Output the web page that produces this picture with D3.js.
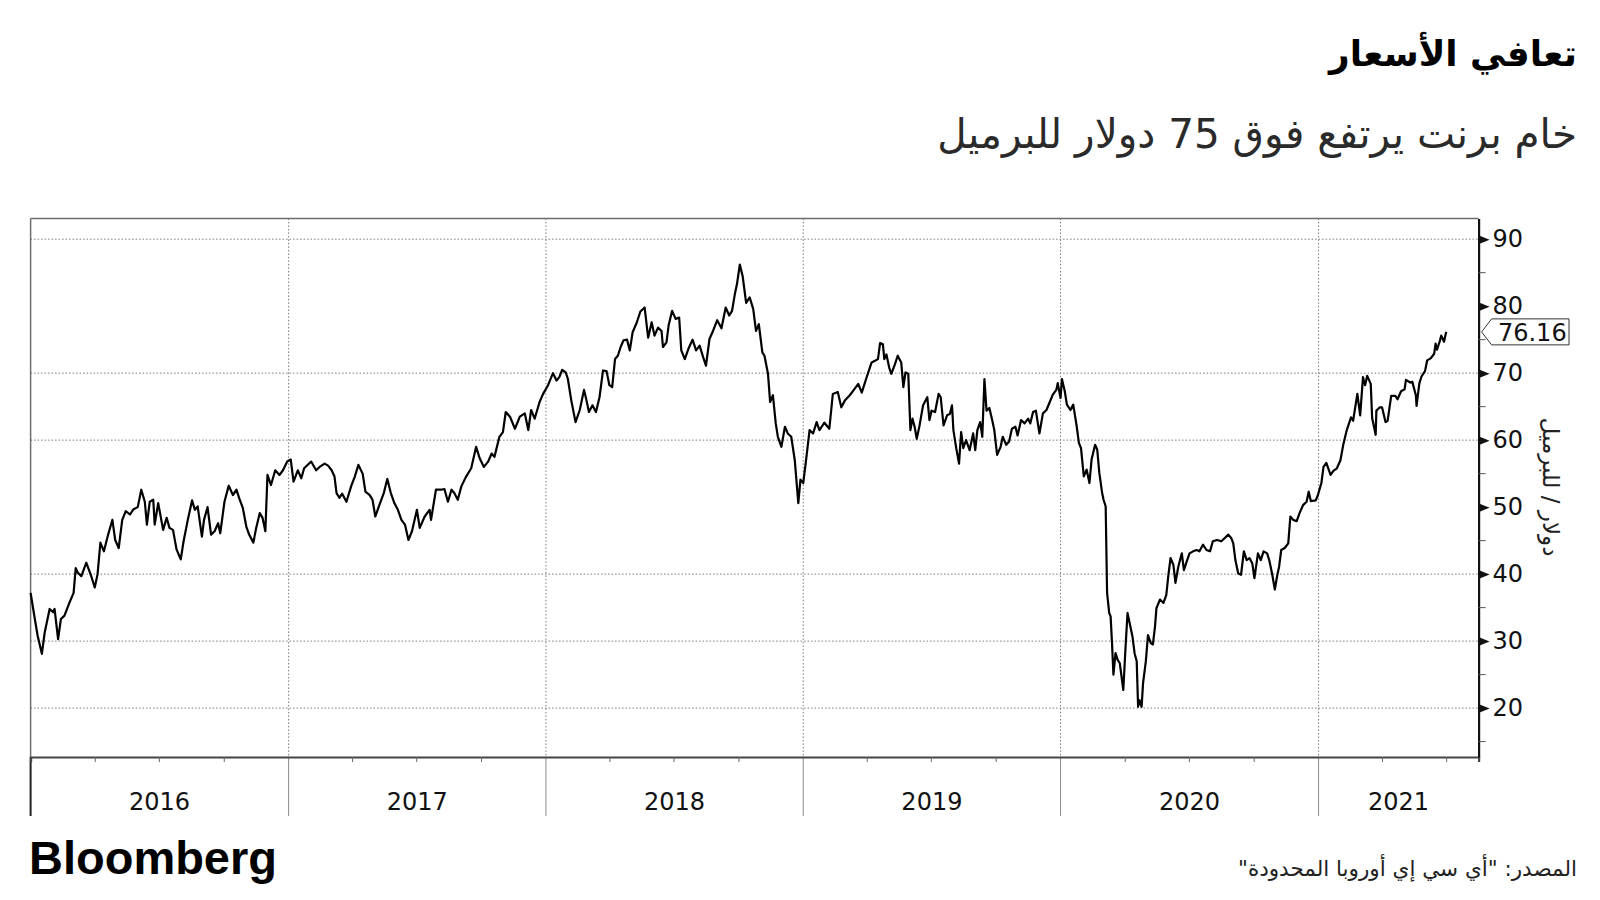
<!DOCTYPE html>
<html><head><meta charset="utf-8">
<script src="https://cdn.jsdelivr.net/npm/d3@7"></script>
<style>body{margin:0;background:#fff}svg{display:block}</style>
</head><body>
<svg id="c" width="1600" height="900"></svg>
<script>
// ---------- DATA ----------
const dates = [
"2016-01-01","2016-01-07","2016-01-11","2016-01-17","2016-01-21","2016-01-28","2016-02-02","2016-02-04","2016-02-09","2016-02-13","2016-02-18","2016-02-25",
"2016-03-02","2016-03-05","2016-03-08","2016-03-13","2016-03-20","2016-03-27","2016-04-01","2016-04-05","2016-04-09","2016-04-14","2016-04-20","2016-04-26",
"2016-04-30","2016-05-05","2016-05-10","2016-05-15","2016-05-21","2016-05-26","2016-06-01","2016-06-06","2016-06-11","2016-06-14","2016-06-18","2016-06-23",
"2016-06-25","2016-06-30","2016-07-07","2016-07-12","2016-07-16","2016-07-21","2016-07-26","2016-08-01","2016-08-05","2016-08-11","2016-08-17","2016-08-21",
"2016-08-25","2016-08-31","2016-09-03","2016-09-08","2016-09-13","2016-09-18","2016-09-23","2016-09-26","2016-10-02","2016-10-08","2016-10-14","2016-10-19",
"2016-10-23","2016-10-28","2016-11-02","2016-11-06","2016-11-12","2016-11-16","2016-11-21","2016-11-25","2016-11-29","2016-12-02","2016-12-07","2016-12-13",
"2016-12-19","2016-12-24","2016-12-30","2017-01-04","2017-01-08","2017-01-14","2017-01-19","2017-01-23","2017-02-02","2017-02-09",
"2017-02-14","2017-02-21","2017-02-26","2017-03-03","2017-03-07","2017-03-10","2017-03-14","2017-03-18","2017-03-24","2017-03-31","2017-04-05","2017-04-10",
"2017-04-16","2017-04-20","2017-04-26","2017-04-30","2017-05-04","2017-05-09","2017-05-16","2017-05-21","2017-05-26","2017-05-31","2017-06-05","2017-06-10",
"2017-06-15","2017-06-20","2017-06-25","2017-07-02","2017-07-06","2017-07-13","2017-07-20","2017-07-22","2017-07-29","2017-08-05","2017-08-10","2017-08-15",
"2017-08-20","2017-08-24","2017-08-29","2017-09-03","2017-09-10","2017-09-17","2017-09-24","2017-09-29","2017-10-05","2017-10-11","2017-10-16","2017-10-20",
"2017-10-27","2017-11-01","2017-11-05","2017-11-11","2017-11-18","2017-11-25","2017-12-02","2017-12-07","2017-12-11","2017-12-16","2017-12-23","2017-12-28",
"2018-01-04","2018-01-11","2018-01-16","2018-01-20","2018-01-24","2018-01-29","2018-02-01","2018-02-06","2018-02-12","2018-02-18","2018-02-24","2018-02-27",
"2018-03-03","2018-03-08","2018-03-13",
"2018-03-18","2018-03-23","2018-03-28","2018-04-01","2018-04-05","2018-04-09","2018-04-13","2018-04-17","2018-04-21","2018-04-26","2018-04-30","2018-05-04",
"2018-05-10","2018-05-15","2018-05-21","2018-05-26","2018-05-31","2018-06-04","2018-06-09","2018-06-14","2018-06-16","2018-06-21","2018-06-24","2018-06-29",
"2018-07-04","2018-07-09","2018-07-12","2018-07-17","2018-07-22","2018-07-28","2018-08-02","2018-08-07","2018-08-12","2018-08-16","2018-08-21","2018-08-26",
"2018-09-01","2018-09-07","2018-09-13","2018-09-18","2018-09-22","2018-09-26","2018-09-29","2018-10-03","2018-10-07","2018-10-12","2018-10-17","2018-10-22",
"2018-10-26","2018-10-30","2018-11-04","2018-11-07","2018-11-12","2018-11-15","2018-11-19","2018-11-23","2018-11-26","2018-12-01","2018-12-06","2018-12-10",
"2018-12-15","2018-12-20","2018-12-25","2018-12-28","2019-01-01","2019-01-05","2019-01-10","2019-01-15","2019-01-20","2019-01-24","2019-01-31","2019-02-07",
"2019-02-12","2019-02-19",
"2019-02-24","2019-03-01","2019-03-08","2019-03-13","2019-03-20","2019-03-25","2019-04-01","2019-04-08","2019-04-12","2019-04-17","2019-04-20","2019-04-24",
"2019-04-26","2019-04-29","2019-05-03","2019-05-06","2019-05-11","2019-05-15","2019-05-20","2019-05-23","2019-05-26","2019-05-30","2019-06-02","2019-06-05",
"2019-06-08","2019-06-11","2019-06-15","2019-06-20","2019-06-26","2019-06-29","2019-07-02","2019-07-07","2019-07-12","2019-07-15","2019-07-19","2019-07-24",
"2019-07-28","2019-07-31","2019-08-02","2019-08-06","2019-08-10","2019-08-13","2019-08-16","2019-08-20","2019-08-25","2019-08-30","2019-09-02","2019-09-05",
"2019-09-09","2019-09-12","2019-09-15","2019-09-18","2019-09-22","2019-09-26","2019-09-29","2019-10-03","2019-10-08","2019-10-11","2019-10-16","2019-10-20",
"2019-10-24","2019-10-29","2019-11-01","2019-11-06","2019-11-11","2019-11-16","2019-11-19","2019-11-23","2019-11-27",
"2019-12-02","2019-12-07","2019-12-12","2019-12-16","2019-12-21","2019-12-26","2019-12-28","2020-01-01","2020-01-03","2020-01-07","2020-01-10","2020-01-15",
"2020-01-19","2020-01-24","2020-01-27","2020-01-30","2020-02-03","2020-02-07","2020-02-11","2020-02-14","2020-02-19","2020-02-22","2020-02-25","2020-02-29",
"2020-03-02","2020-03-05","2020-03-07","2020-03-10","2020-03-12","2020-03-14","2020-03-16","2020-03-19","2020-03-22","2020-03-25","2020-03-30","2020-04-02",
"2020-04-05","2020-04-08","2020-04-12","2020-04-15","2020-04-18","2020-04-20","2020-04-22","2020-04-25","2020-04-27","2020-05-01","2020-05-04","2020-05-08",
"2020-05-11","2020-05-14","2020-05-16","2020-05-21","2020-05-26","2020-05-30","2020-06-02","2020-06-05","2020-06-09","2020-06-12","2020-06-16","2020-06-21",
"2020-06-24","2020-06-28","2020-07-02","2020-07-07","2020-07-12","2020-07-16","2020-07-21","2020-07-26","2020-07-31","2020-08-04","2020-08-10","2020-08-16",
"2020-08-21","2020-08-26","2020-08-30","2020-09-02","2020-09-05","2020-09-09","2020-09-13","2020-09-17","2020-09-21","2020-09-25","2020-09-29","2020-10-02",
"2020-10-07","2020-10-11","2020-10-15","2020-10-20","2020-10-23","2020-10-27","2020-10-31","2020-11-03","2020-11-06","2020-11-09","2020-11-14","2020-11-19",
"2020-11-22","2020-11-26","2020-12-01","2020-12-05",
"2020-12-10","2020-12-15","2020-12-18","2020-12-21","2020-12-28","2020-12-31","2021-01-05","2021-01-08","2021-01-12","2021-01-18","2021-01-22","2021-01-27",
"2021-02-01","2021-02-05","2021-02-10","2021-02-16","2021-02-19","2021-02-25","2021-03-01","2021-03-05","2021-03-08","2021-03-11","2021-03-16","2021-03-18",
"2021-03-23","2021-03-24","2021-03-29","2021-04-01","2021-04-06","2021-04-09","2021-04-14","2021-04-20","2021-04-23","2021-04-28","2021-05-03","2021-05-05",
"2021-05-11","2021-05-14","2021-05-19","2021-05-20","2021-05-24","2021-05-27","2021-06-01","2021-06-04","2021-06-09","2021-06-14","2021-06-16","2021-06-18",
"2021-06-22","2021-06-24","2021-06-28","2021-07-01"
];
const prices = [
37.2,33.3,30.8,28.1,31.3,34.8,34.3,34.8,30.3,33.3,33.8,35.7,
37.2,40.9,40.2,39.7,41.7,39.7,38.0,40.0,44.7,43.4,45.9,48.1,
45.1,43.9,48.1,49.4,48.9,49.7,50.0,52.6,50.8,47.4,50.8,51.1,
47.4,50.6,46.6,48.4,46.9,46.6,43.7,42.2,44.9,48.1,51.0,49.6,
50.1,45.6,48.1,50.0,45.9,46.4,47.6,46.1,50.8,53.2,51.8,52.6,
51.3,49.9,47.1,45.9,44.7,46.9,49.1,48.4,46.4,54.8,53.3,55.5,
54.8,55.5,56.8,57.1,53.8,55.5,54.3,55.8,56.8,55.5,
56.0,56.5,56.2,55.5,54.6,52.1,51.4,52.0,50.8,53.2,54.6,56.3,
55.0,52.3,51.8,51.1,48.6,50.1,52.1,54.2,52.1,50.6,49.6,48.1,
47.4,45.1,46.4,49.6,46.9,48.6,49.6,48.1,52.6,52.6,52.7,50.8,
52.6,52.1,51.1,53.1,54.6,55.8,59.0,57.3,56.0,56.8,58.0,57.5,
60.5,61.2,64.2,63.5,61.7,63.5,64.0,61.5,64.5,63.2,65.7,66.9,
68.2,70.0,68.9,69.4,70.5,70.1,69.2,65.9,62.7,64.5,67.5,66.2,
64.2,65.2,64.2,
66.4,70.4,70.3,68.2,67.9,72.1,72.6,73.9,74.9,75.0,73.4,76.1,
77.6,79.2,79.8,75.3,77.6,75.6,76.8,76.3,73.9,74.6,77.1,79.3,
78.1,78.3,73.4,72.1,73.6,75.0,73.4,74.1,72.4,71.1,75.1,76.3,
77.9,76.7,79.8,78.6,79.3,81.8,83.3,86.2,84.5,80.5,81.3,79.6,
76.3,77.3,73.1,72.6,69.9,65.7,66.7,62.5,60.5,59.0,62.0,61.0,
60.5,57.0,50.6,54.1,53.6,57.0,61.5,61.0,62.7,61.5,62.6,61.7,
66.9,67.2,
64.9,65.9,66.7,67.4,68.4,67.1,69.4,71.6,71.8,72.1,74.5,74.3,
72.1,72.8,70.8,69.9,71.3,72.6,71.6,67.9,70.1,69.9,61.5,63.2,
62.0,60.2,62.2,65.2,66.4,63.0,64.4,64.2,66.9,66.4,62.2,63.7,
63.9,65.2,61.5,58.8,56.5,61.2,58.8,60.0,58.5,61.0,58.5,61.5,
62.7,60.5,69.1,64.4,64.8,63.0,61.5,57.8,59.0,60.5,59.3,59.8,
61.7,62.0,60.7,63.0,62.5,63.2,62.5,64.2,64.4,
61.0,64.0,64.5,65.5,66.8,67.5,68.5,66.3,69.1,67.3,65.3,64.5,
65.3,62.0,59.6,58.8,54.6,55.6,53.6,57.1,59.3,58.6,55.1,52.1,
51.1,50.1,37.2,34.2,33.7,29.7,25.0,28.2,27.2,26.7,22.7,28.7,
34.2,32.7,30.7,28.2,27.0,20.2,21.2,20.2,23.7,27.0,30.9,29.7,
29.5,32.2,34.9,36.2,35.7,36.9,39.9,42.4,41.4,38.7,41.1,43.1,
40.6,41.9,43.1,43.4,43.6,43.4,44.4,43.6,43.4,44.9,45.1,44.9,
45.4,45.9,45.4,44.6,42.1,40.1,39.9,43.4,42.1,42.4,41.6,39.4,
43.1,42.1,43.4,43.1,42.1,40.1,37.7,39.6,41.1,43.6,43.9,44.6,
48.6,48.1,47.9,49.1,
50.3,50.8,52.3,50.9,51.0,51.8,53.6,56.0,56.6,54.8,55.4,55.8,
57.0,59.3,61.5,63.4,62.9,66.9,63.7,69.4,68.2,69.6,68.4,63.3,
60.8,64.4,64.9,64.9,62.7,62.9,66.6,66.6,66.1,67.3,67.6,69.0,
68.6,68.7,66.7,65.1,68.5,69.5,70.3,71.9,72.2,72.9,74.4,73.5,
74.8,75.6,74.7,76.16
];
const yearLabels = ["2016","2017","2018","2019","2020","2021"];
const yTickValues = [20,30,40,50,60,70,80,90];
const yMinorValues = [15,25,35,45,55,65,75,85];
const yGridValues = [20,30,40,60,70,90];
const lastValueText = "76.16";
const titleText = "تعافي الأسعار";
const subtitleText = "خام برنت يرتفع فوق 75 دولار للبرميل";
const yAxisTitleText = "دولار / للبرميل";
const sourceText = "المصدر: \"أي سي إي أوروبا المحدودة\"";
const logoText = "Bloomberg";

// ---------- CHART ----------
const svg = d3.select("#c");
const P = {l:30.6, r:1478.6, t:218.4, b:757, below:816};
const parse = d3.utcParse("%Y-%m-%d");
const data = dates.map((d,i)=>({date:parse(d), v:prices[i]}));
const xStart = new Date(Date.UTC(2016,0,1)), xEnd = new Date(Date.UTC(2021,7,16));
const x = d3.scaleUtc().domain([xStart, xEnd]).range([P.l, P.r]);
const y = d3.scaleLinear().domain([12.7, 93.1]).range([P.b, P.t]);
const AR = "'DejaVu Sans', sans-serif";
const NUM = "'DejaVu Sans', Verdana, sans-serif";

// horizontal gridlines
svg.append("g").selectAll("line").data(yGridValues).join("line")
  .attr("x1", P.l).attr("x2", P.r).attr("y1", d=>y(d)).attr("y2", d=>y(d))
  .attr("stroke", "#7a7a7a").attr("stroke-width", 1).attr("stroke-dasharray", "1.5,2");

// year boundaries
const yearStarts = yearLabels.map(s => new Date(Date.UTC(+s,0,1)));
svg.append("g").selectAll("line").data(yearStarts.slice(1)).join("line")
  .attr("x1", d=>x(d)).attr("x2", d=>x(d)).attr("y1", P.t).attr("y2", P.b)
  .attr("stroke", "#7a7a7a").attr("stroke-width", 1).attr("stroke-dasharray", "1.5,2");
svg.append("g").selectAll("line").data(yearStarts.slice(1)).join("line")
  .attr("x1", d=>x(d)).attr("x2", d=>x(d)).attr("y1", P.b).attr("y2", P.below)
  .attr("stroke", "#8a8a8a").attr("stroke-width", 1);

// frame
svg.append("line").attr("x1", P.l).attr("x2", P.r).attr("y1", P.t).attr("y2", P.t)
  .attr("stroke", "#6e6e6e").attr("stroke-width", 1.5);
svg.append("line").attr("x1", P.l).attr("x2", P.l).attr("y1", P.t).attr("y2", P.b)
  .attr("stroke", "#6e6e6e").attr("stroke-width", 1.5);
svg.append("line").attr("x1", P.l).attr("x2", P.l).attr("y1", P.b).attr("y2", P.below)
  .attr("stroke", "#222").attr("stroke-width", 2);

// x axis: quarter ticks
const xAxis = d3.axisBottom(x)
  .tickValues(x.ticks(d3.utcMonth.every(3)).filter(d => d.getUTCMonth() !== 0))
  .tickSize(5).tickFormat("");
const gx = svg.append("g").attr("transform", `translate(0,${P.b})`).call(xAxis);
gx.select(".domain").attr("stroke", "#444").attr("stroke-width", 2.2);
gx.selectAll(".tick line").attr("stroke", "#666");

// year labels
svg.append("g").selectAll("text").data(yearLabels).join("text")
  .attr("x", (d,i) => { const a = x(yearStarts[i]); const b = i+1 < yearStarts.length ? x(yearStarts[i+1]) : P.r; return (a+b)/2; })
  .attr("y", 810).attr("text-anchor", "middle")
  .attr("font-family", NUM).attr("font-size", 24).attr("fill", "#111").text(d=>d);

// price line
svg.append("path").datum(data)
  .attr("d", d3.line().x(d=>x(d.date)).y(d=>y(d.v)))
  .attr("fill", "none").attr("stroke", "#000").attr("stroke-width", 2.2).attr("stroke-linejoin", "round");

// right axis
const yAxis = d3.axisRight(y).tickValues(yTickValues).tickSize(0).tickPadding(14).tickFormat(d3.format("d"));
const gy = svg.append("g").attr("transform", `translate(${P.r},0)`).call(yAxis);
gy.select(".domain").attr("stroke", "#111").attr("stroke-width", 2.2);
gy.selectAll(".tick text").attr("font-family", NUM).attr("font-size", 24).attr("fill", "#111");
gy.selectAll(".tick").append("path").attr("d", "M1,-4L11,0L1,4Z").attr("fill", "#111");
svg.append("g").selectAll("line").data(yMinorValues).join("line")
  .attr("x1", P.r).attr("x2", P.r + 7).attr("y1", d=>y(d)).attr("y2", d=>y(d))
  .attr("stroke", "#555").attr("stroke-width", 1);

// last value label
const last = data[data.length-1];
const ly = y(last.v);
const tipX = P.r + 3, boxL = tipX + 10, boxR = 1569, hh = 13;
svg.append("path")
  .attr("d", `M${tipX},${ly}L${boxL},${ly-hh}L${boxR},${ly-hh}L${boxR},${ly+hh}L${boxL},${ly+hh}Z`)
  .attr("fill", "#fff").attr("stroke", "#333").attr("stroke-width", 1);
svg.append("text").attr("x", (boxL+boxR)/2 + 2).attr("y", ly).attr("dy", "0.36em")
  .attr("text-anchor", "middle").attr("font-family", NUM).attr("font-size", 24).attr("fill", "#111")
  .text(lastValueText);

// ---------- TEXT ----------
function fitText(sel, width, right, left) {
  let fs = +sel.attr("font-size");
  let bb = sel.node().getBBox();
  fs = fs * width / bb.width;
  sel.attr("font-size", fs);
  bb = sel.node().getBBox();
  const curX = +sel.attr("x");
  if (right != null) sel.attr("x", curX + (right - (bb.x + bb.width)));
  else sel.attr("x", curX + (left - bb.x));
}
const title = svg.append("text").attr("x", 1577).attr("y", 66).attr("direction", "rtl")
  .attr("font-family", AR).attr("font-weight", "bold").attr("font-size", 36).attr("fill", "#000").text(titleText);
fitText(title, 250, 1577);
const sub = svg.append("text").attr("x", 1577).attr("y", 148).attr("direction", "rtl")
  .attr("font-family", AR).attr("font-size", 34).attr("fill", "#2a2a2a").text(subtitleText);
fitText(sub, 640, 1577);
const src = svg.append("text").attr("x", 1577).attr("y", 876).attr("direction", "rtl")
  .attr("font-family", AR).attr("font-size", 20).attr("fill", "#222").text(sourceText);
fitText(src, 339, 1577);
svg.append("text").attr("x", 29).attr("y", 874)
  .attr("font-family", "'Liberation Sans', Arial, sans-serif").attr("font-weight", "bold")
  .attr("font-size", 47).attr("textLength", 248).attr("lengthAdjust", "spacingAndGlyphs")
  .attr("fill", "#000").text(logoText);
const yt = svg.append("text").attr("direction", "rtl").attr("text-anchor", "middle")
  .attr("transform", "translate(1543,487) rotate(90)")
  .attr("font-family", AR).attr("font-size", 23).attr("fill", "#222").text(yAxisTitleText);
</script>
</body></html>
